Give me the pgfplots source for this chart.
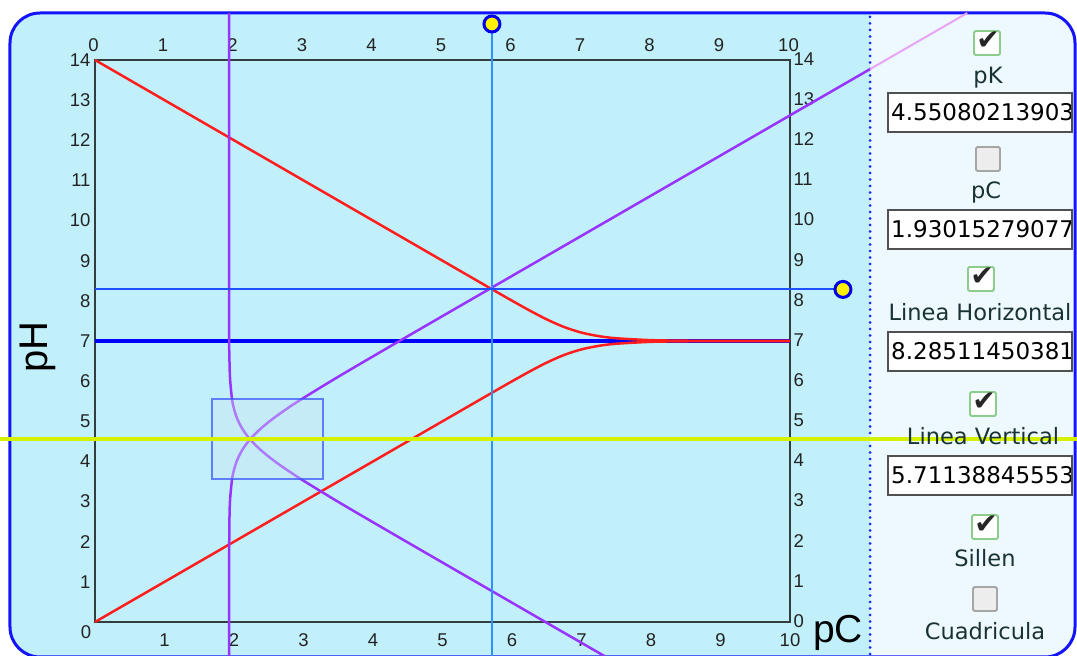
\documentclass[border=0pt]{standalone}
\usepackage{pgfplots}
\pgfplotsset{compat=1.18}
\usepackage{fontspec}
\setmainfont{Liberation Sans}
\newfontfamily\djv{DejaVu Sans}
\definecolor{cyanbg}{RGB}{193,240,251}
\definecolor{lightbg}{RGB}{238,249,255}
\definecolor{bordblue}{RGB}{20,20,250}
\definecolor{dotblue}{RGB}{20,40,255}
\definecolor{axisgrey}{RGB}{50,62,62}
\definecolor{ticklab}{RGB}{35,35,35}
\definecolor{redc}{RGB}{255,30,30}
\definecolor{purp}{RGB}{153,51,255}
\definecolor{fadepurp}{RGB}{232,165,245}
\definecolor{vblue}{RGB}{45,145,255}
\definecolor{hblue}{RGB}{30,80,255}
\definecolor{blue7}{RGB}{0,0,255}
\definecolor{yel}{RGB}{212,242,0}
\definecolor{rectfill}{RGB}{205,232,240}
\definecolor{rectdraw}{RGB}{60,90,255}
\definecolor{circfill}{RGB}{255,240,0}
\definecolor{circdraw}{RGB}{0,0,230}
\definecolor{labtxt}{RGB}{25,50,52}
\definecolor{boxgray}{RGB}{80,80,80}
\definecolor{cbgreen}{RGB}{140,205,140}
\begin{document}
\begin{tikzpicture}
% ---- applet panel (pixel coordinates, origin at pC=0, pH=0) ----
\begin{scope}[x=1pt,y=-1pt,shift={(-95,-622)}]
\fill[white] (0,0) rectangle (1077,656);
\fill[cyanbg, rounded corners=30pt] (10,13) rectangle (1075,657);
\begin{scope}
\clip[rounded corners=30pt] (10,13) rectangle (1075,657);
\fill[lightbg] (870,0) rectangle (1077,660);
\end{scope}
\draw[bordblue, line width=3pt, rounded corners=30pt] (10,13) rectangle (1075,657);
\draw[dotblue, line width=3pt, line cap=round, dash pattern=on 0pt off 6.5pt] (870,17) -- (870,656);
\end{scope}
% ---- axis box with bottom / left tick labels ----
\begin{axis}[
  x=69.5pt, y=40.143pt,
  xmin=0, xmax=10, ymin=0, ymax=14,
  axis line style={draw=axisgrey, line width=2.5pt},
  tick style={draw=none}, major tick length=0pt,
  xtick={1,...,10}, ytick={1,...,14},
  /pgf/number format/assume math mode=true,
  ticklabel style={font=\fontsize{18.5}{18.5}\selectfont, text=ticklab},
  xticklabel style={yshift=-8pt},
  yticklabel style={xshift=-1pt},
]
\end{axis}
% ---- data, top / right tick labels ----
\begin{axis}[
  name=ax,
  x=69.5pt, y=40.143pt,
  xmin=0, xmax=10, ymin=0, ymax=14,
  clip=false,
  axis line style={draw=none},
  tick style={draw=none}, major tick length=0pt,
  xtick={0,...,10}, ytick={0,...,14},
  xticklabel pos=top, yticklabel pos=right,
  /pgf/number format/assume math mode=true,
  ticklabel style={font=\fontsize{18.5}{18.5}\selectfont, text=ticklab},
  xticklabel style={yshift=5pt, xshift=-1.5pt},
  yticklabel style={yshift=1pt},
]
% pH = 7 line
\addplot[blue7, line width=4pt] coordinates {(0,7) (10,7)};
% strong acid / strong base
\addplot[redc, line width=2.5pt, smooth] coordinates {
 (0,0) (4.5,4.5) (5,5.0) (5.5,5.4996) (5.75,5.7486) (6,5.9957) (6.25,6.2369)
 (6.5,6.4619) (6.75,6.6522) (7,6.791) (7.25,6.8795) (7.5,6.9316) (8,6.9788)
 (8.5,6.9932) (9,6.9978) (10,6.9998)};
\addplot[redc, line width=2.5pt, smooth] coordinates {
 (0,14) (4.5,9.5) (5,9.0) (5.5,8.5004) (5.75,8.2514) (6,8.0043) (6.25,7.7631)
 (6.5,7.5381) (6.75,7.3478) (7,7.209) (7.25,7.1205) (7.5,7.0684) (8,7.0212)
 (8.5,7.0068) (9,7.0022) (10,7.0002)};
% Sillen: HA and A-
\addplot[purp, line width=2.5pt, smooth] coordinates {
 (1.9302,-0.85) (1.9306,1.5508) (1.9345,2.5508) (1.9437,3.0508) (1.9716,3.5508)
 (2.0013,3.8008) (2.0495,4.0508) (2.1240,4.3008) (2.2312,4.5508) (2.3740,4.8008)
 (2.5495,5.0508) (2.7513,5.3008) (2.9716,5.5508) (3.4437,6.0508) (3.9345,6.5508)
 (4.9306,7.5508) (11.1511,13.7717)};
\addplot[fadepurp, line width=2pt] coordinates {(11.1511,13.7717) (12.55,15.17)};
\addplot[purp, line width=2.5pt, smooth] coordinates {
 (7.3310,-0.85) (4.9306,1.5508) (3.9345,2.5508) (3.4437,3.0508) (2.9716,3.5508)
 (2.7513,3.8008) (2.5495,4.0508) (2.3740,4.3008) (2.2312,4.5508) (2.1240,4.8008)
 (2.0495,5.0508) (2.0013,5.3008) (1.9716,5.5508) (1.9437,6.0508) (1.9345,6.5508)
 (1.9306,7.5508) (1.9302,15.17)};
% zoom rectangle
\addplot[fill=rectfill, fill opacity=0.4, draw=rectdraw, draw opacity=0.75, line width=2pt]
 coordinates {(1.688,3.551) (3.276,3.551) (3.276,5.551) (1.688,5.551)} --cycle;
% cross-hair lines
\addplot[vblue, line width=2pt] coordinates {(5.7114,14.897) (5.7114,-0.85)};
\addplot[hblue, line width=2pt] coordinates {(0,8.2851) (10.762,8.2851)};
% pK line
\addplot[yel, line width=4pt] coordinates {(-1.3669,4.5508) (14.1295,4.5508)};
% handles
\addplot[only marks, mark=*, mark size=8pt,
  mark options={fill=circfill, draw=circdraw, line width=3pt}]
  coordinates {(5.7114,14.897) (10.762,8.2851)};
\end{axis}
% ---- labels and control panel (pixel coordinates) ----
\begin{scope}[x=1pt,y=-1pt,shift={(-95,-622)}]
\node[font=\fontsize{18.5}{18.5}\selectfont, text=ticklab] at (86,632) {0};
\node[rotate=90, anchor=base, inner sep=0pt, font=\fontsize{40}{40}\selectfont] at (48,347) {pH};
\node[anchor=base west, inner sep=0pt, font=\fontsize{39}{39}\selectfont] at (813,643) {pC};
% checkboxes
\foreach \cx/\cy in {987/43, 981/279, 983/404, 985/527} {
  \draw[draw=cbgreen, fill=white, line width=1.8pt, rounded corners=1.5pt] (\cx-13,\cy-12) rectangle (\cx+13,\cy+12);
  \node[font=\djv\fontsize{28}{28}\selectfont, text=black!85, inner sep=0pt] at (\cx+1,\cy-2) {✔};
}
\foreach \cx/\cy in {988/159, 985/599} {
  \draw[draw=black!35, fill=black!7, line width=1.8pt, rounded corners=1.5pt] (\cx-12,\cy-12) rectangle (\cx+12,\cy+12);
}
% labels
\foreach \lx/\ly/\txt in {988/84/pK, 986/199/pC, 980/321/Linea Horizontal, 983/445/Linea Vertical, 985/567/Sillen, 985/640/Cuadricula} {
  \node[anchor=base, inner sep=0pt, text=labtxt, font=\djv\fontsize{22.5}{22.5}\selectfont] at (\lx,\ly) {\txt};
}
% input boxes
\foreach \yt/\val in {93/4.55080213903, 210/1.93015279077, 332/8.28511450381, 456/5.71138845553} {
  \draw[fill=white, draw=boxgray, line width=1.8pt] (888,\yt) rectangle (1072,\yt+39);
  \begin{scope}
    \clip (889,\yt+1) rectangle (1070,\yt+38);
    \node[anchor=base west, inner sep=0pt, font=\djv\fontsize{23}{23}\selectfont] at (891,\yt+28) {\val};
  \end{scope}
}
\pgfresetboundingbox
\path[use as bounding box] (0,0) rectangle (1077,656);
\end{scope}
\end{tikzpicture}
\end{document}
